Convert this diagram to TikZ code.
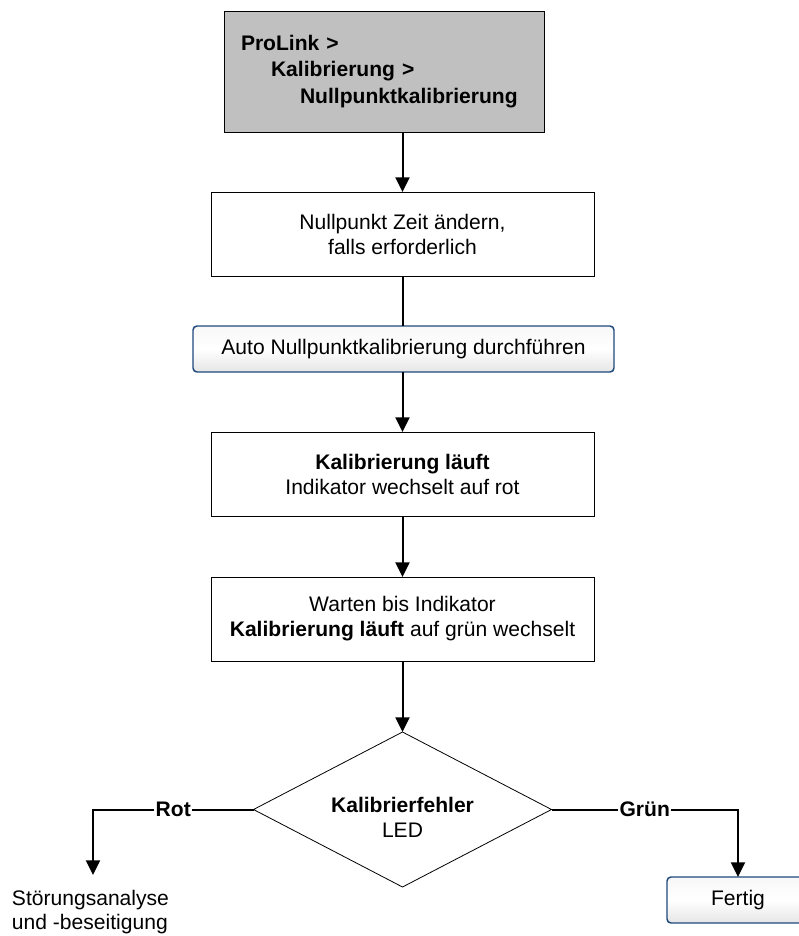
\documentclass[tikz,border=0pt]{standalone}
\usepackage{fontspec}
\setmainfont{Liberation Sans}
\usepackage{tikz}
\usetikzlibrary{arrows.meta,shapes.geometric,calc}
\definecolor{menugray}{RGB}{192,192,192}
\definecolor{btnblue}{RGB}{31,73,125}
\newcommand\flowfont{\fontsize{15.8}{18.75}\selectfont}
\tikzset{
  flowbox/.style={draw=black,line width=0.75pt,fill=white,minimum width=287.25pt,
    minimum height=63pt,align=center},
  menubox/.style={draw=black,line width=0.75pt,fill=menugray,minimum width=240pt,
    minimum height=90.75pt,text width=214.5pt,inner xsep=12.75pt,align=left,
    font=\fontsize{15.8}{19.75}\selectfont\bfseries},
  btnbox/.style={draw=btnblue,line width=1.1pt,rounded corners=3pt,
    top color=gray!6,bottom color=gray!20,middle color=white,minimum height=34.5pt},
  decbox/.style={draw=black,line width=0.6pt,diamond,minimum width=223.5pt,
    minimum height=116.25pt,aspect=1.92},
  flow/.style={draw=black,line width=1.5pt,-{Triangle[width=10.5pt,length=11pt]}},
  plainflow/.style={draw=black,line width=1.5pt},
  branch/.style={fill=white,inner sep=1pt,font=\flowfont\bfseries}
}
\begin{document}
\begin{tikzpicture}[y=0.75pt, x=0.75pt, yscale=-1, inner sep=0pt, outer sep=0pt,
  font=\flowfont]
  \useasboundingbox (0,0) rectangle (799,936);
  \clip (0,0) rectangle (799,936);
  \path (384,71.5) node[menubox] (menu)
    {ProLink >\\\hspace*{22.5pt}Kalibrierung >\\\hspace*{44.25pt}Nullpunktkalibrierung};
  \path (402.5,234) node[flowbox] (zeit)
    {Nullpunkt Zeit ändern,\\falls erforderlich};
  \path (403.5,349) node[btnbox,minimum width=315.75pt] (auto)
    {Auto Nullpunktkalibrierung durchführen};
  \path (402.5,474) node[flowbox] (laeuft)
    {\textbf{Kalibrierung läuft}\\Indikator wechselt auf rot};
  \path (402.5,619) node[flowbox] (warten)
    {Warten bis Indikator\\\textbf{Kalibrierung läuft} auf grün wechselt};
  \path (402.5,809.5) node[decbox] (led) {};
  \path (402.5,817) node[align=center] (ledtext)
    {\textbf{Kalibrierfehler}\\LED};
  \path (738,900) node[btnbox,minimum width=106.5pt] (fertig) {Fertig};
  \path (12,890) node[anchor=north west,align=left,
    font=\fontsize{15.8}{18}\selectfont] (stoerung)
    {Störungsanalyse\\und -beseitigung};
  \coordinate (rotend) at (93,875);
  \coordinate (rotcorner) at (93,809.5);
  \coordinate (gruencorner) at (738,809.5);

  \path[flow] (menu.south -| zeit.north) -- (zeit.north);
  \path[plainflow] (zeit.south) -- (auto.north -| zeit.south);
  \path[flow] (auto.south -| laeuft.north) -- (laeuft.north);
  \path[flow] (laeuft.south) -- (warten.north);
  \path[flow] (warten.south) -- (led.north);
  \path[flow] (led.west) -- node[branch] (rot) {Rot} (rotcorner) -- (rotend);
  \path[flow] (led.east) -- node[branch] (gruen) {Grün} (gruencorner)
    -- (fertig.north);

\end{tikzpicture}
\end{document}
